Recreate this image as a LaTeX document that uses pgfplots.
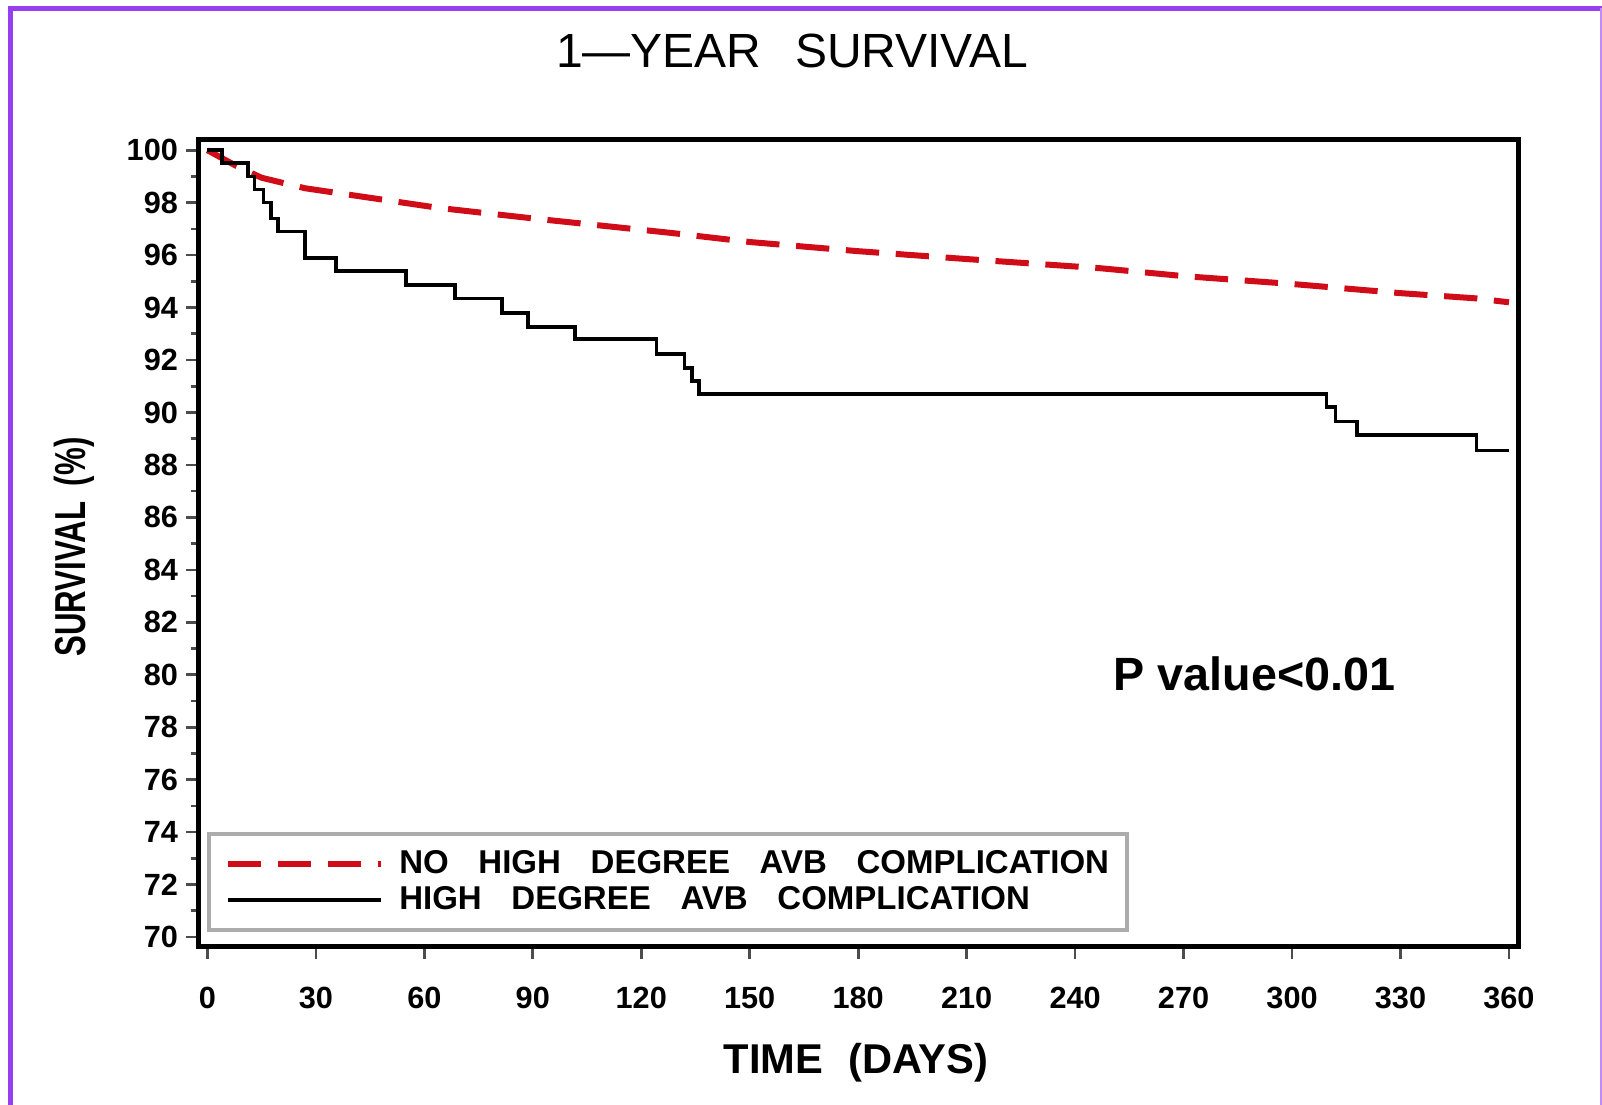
\documentclass[border=0pt]{standalone}
\usepackage{pgfplots}
\pgfplotsset{compat=1.18}
\usepackage{graphicx}
\usepackage{fontspec}
\setmainfont{Liberation Sans}
\definecolor{kmred}{RGB}{208,12,24}
\definecolor{framepurple}{RGB}{150,62,240}

\begin{document}
\begin{tikzpicture}[x=0.3pt,y=0.3pt]
\useasboundingbox (0,0) rectangle (1602,1105);
% cut purple frame of the source picture
\draw[framepurple,line width=1.5pt] (10.8,0) -- (10.8,1096.5) -- (1602,1096.5);
\draw[framepurple!60,line width=0.4pt] (1601,0) -- (1601,1096.5);

\node[font=\fontsize{14.4}{16}\selectfont] at (792,1054) {1---YEAR\hspace{0.7em}SURVIVAL};
\node[font=\fontsize{12.5}{14}\selectfont\bfseries] at (856,42) {TIME\hspace{0.6em}(DAYS)};
\node[rotate=90,font=\fontsize{13}{15}\selectfont\bfseries] at (74,558)
  {\scalebox{0.72}[1]{SURVIVAL\hspace{0.5em}(\%)}};

\begin{axis}[
  at={(59.4pt,47.4pt)}, anchor=south west,
  width=396pt, height=242.1pt, scale only axis,
  xmin=-2.6, xmax=362.5, ymin=69.62, ymax=100.39,
  xtick={0,30,...,360}, ytick={70,72,...,100},
  minor y tick num=1,
  tick align=outside, tick pos=left,
  major tick length=3.5pt, minor tick length=2.2pt,
  every tick/.style={gray!60!black, line width=0.8pt},
  axis line style={line width=1.5pt},
  /pgf/number format/assume math mode=true,
  tick label style={font=\fontsize{9.2}{10}\selectfont\bfseries},
  xticklabel style={yshift=-5pt},
  yticklabel style={xshift=1pt},
  legend image code/.code={\draw[#1] (0pt,0pt) -- (46pt,0pt);},
  legend cell align=left,
  legend style={at={(rel axis cs:0.0068,0.0186)}, anchor=south west,
    draw=gray!65, line width=1.2pt, inner xsep=4.8pt, inner ysep=4.5pt,
    font=\fontsize{9.9}{10}\selectfont\bfseries, row sep=1.8pt,
    nodes={inner sep=0.5pt, text height=7pt, text depth=1pt}},
]
\addplot[kmred, line width=1.8pt, dash pattern=on 10pt off 5pt] coordinates {
  (0,100) (4,99.7) (8,99.4) (15,98.95) (27,98.55) (64,97.8) (90,97.4)
  (128,96.85) (150,96.5) (180,96.15) (210,95.85) (247,95.5) (270,95.2)
  (300,94.9) (330,94.55) (351,94.35) (360,94.2)
};
\addlegendentry{\hspace{4pt}NO\hspace{0.9em}HIGH\hspace{0.9em}DEGREE\hspace{0.9em}AVB\hspace{0.9em}COMPLICATION\hspace{16pt}}
\addplot[black, line width=1.1pt, const plot] coordinates {
  (0,100) (4,99.5) (11.3,99.0) (13,98.5) (15.5,98.0) (17.5,97.4) (19.5,96.9)
  (27,95.9) (35.5,95.4) (55,94.85) (68.5,94.35) (81.4,93.8) (88.7,93.27)
  (101.6,92.79) (124.2,92.23) (132,91.7) (134,91.2) (136,90.7)
  (309.5,90.2) (312,89.65) (318,89.14) (351,88.55) (360,88.55)
};
\addlegendentry{\hspace{4pt}HIGH\hspace{0.9em}DEGREE\hspace{0.9em}AVB\hspace{0.9em}COMPLICATION}
\node[font=\fontsize{14}{16}\selectfont\bfseries] at (axis cs:289.6,80.03) {P value<0.01};
\end{axis}
\end{tikzpicture}
\end{document}
